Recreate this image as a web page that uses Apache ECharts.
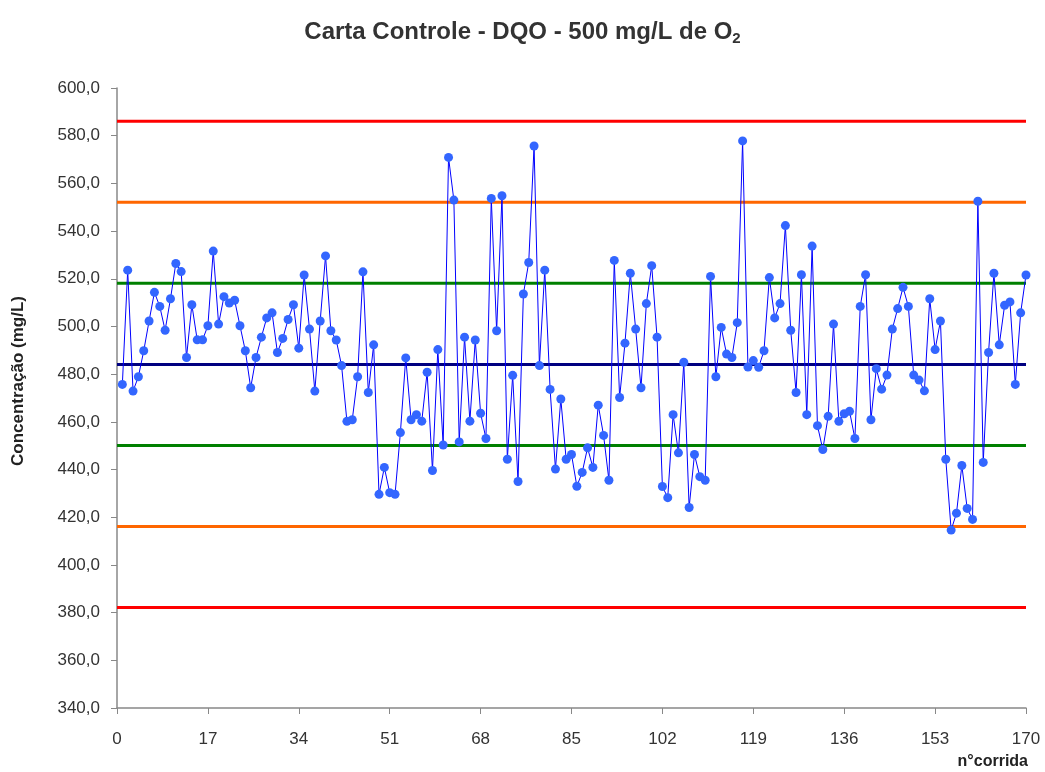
<!DOCTYPE html>
<html>
<head>
<meta charset="utf-8">
<script src="https://cdn.jsdelivr.net/npm/echarts@6/dist/echarts.min.js"></script>
<style>html,body{margin:0;padding:0;background:#fff}#c{width:1045px;height:772px}</style>
</head>
<body>
<div id="c"></div>
<script>
const runs = Array.from({length: 170}, (_, i) => i + 1);
const values = [
475.7,523.6,472.9,478.9,489.8,502.3,514.3,508.4,498.4,511.6,
526.4,523.0,487.0,509.1,494.4,494.4,500.3,531.6,501.0,512.5,
509.8,511.0,500.3,489.8,474.3,487.0,495.5,503.6,505.7,489.1,
495.0,502.9,509.1,490.9,521.6,498.9,472.9,502.3,529.6,498.2,
494.3,483.6,460.2,460.9,478.9,522.9,472.3,492.3,429.6,440.9,
430.3,429.6,455.5,486.8,460.9,463.0,460.3,480.8,439.6,490.3,
450.3,570.9,553.0,451.6,495.5,460.3,494.3,463.6,453.0,553.7,
498.2,554.8,444.3,479.5,435.0,513.6,526.8,575.7,483.6,523.6,
473.6,440.2,469.6,444.3,446.3,433.0,438.8,449.1,440.9,467.0,
454.3,435.5,527.7,470.2,493.0,522.3,498.9,474.3,509.6,525.5,
495.5,432.9,428.2,463.0,447.0,485.0,424.1,446.3,437.0,435.5,
521.0,478.9,499.6,488.4,487.0,501.6,577.8,483.0,485.7,482.9,
489.8,520.5,503.6,509.6,542.3,498.4,472.3,521.7,463.0,533.7,
458.4,448.4,462.3,501.0,460.2,463.4,464.4,453.0,508.4,521.7,
460.9,482.3,473.7,479.6,498.9,507.5,516.4,508.4,479.6,477.5,
473.0,511.6,490.3,502.3,444.3,414.6,421.7,441.7,423.7,419.1,
552.5,443.0,489.1,522.3,492.3,508.9,510.3,475.7,505.7,521.6
];
const limitNames = ['LSC','LSA','LSI','Média','LII','LIA','LIC'];
const limitValues = [586.1, 552.1, 518.1, 484.1, 450.1, 416.1, 382.1];
const limitColors = ['#ff0000','#ff6600','#008000','#000080','#008000','#ff6600','#ff0000'];
const xTicks = [0, 17, 34, 51, 68, 85, 102, 119, 136, 153, 170];
const yMin = 340, yMax = 600, yStep = 20;

const chart = echarts.init(document.getElementById('c'));
const font = 'Liberation Sans, Arial, sans-serif';
const series = limitValues.map((v, i) => ({
  name: limitNames[i],
  type: 'line',
  data: [[xTicks[0], v], [xTicks[xTicks.length - 1], v]],
  symbol: 'none',
  lineStyle: {color: limitColors[i], width: 3},
  z: 1,
  silent: true
}));
series.push({
  name: 'DQO',
  type: 'line',
  data: runs.map((r, i) => [r, values[i]]),
  symbol: 'circle',
  symbolSize: 9,
  itemStyle: {color: '#3366ff'},
  lineStyle: {color: '#0000ff', width: 1},
  z: 5
});
chart.setOption({
  animation: false,
  title: {
    text: 'Carta Controle - DQO - 500 mg/L de O{s|2}',
    left: 'center',
    top: 14,
    textStyle: {
      fontFamily: font, fontSize: 24, fontWeight: 'bold', color: '#333',
      rich: {s: {fontFamily: font, fontSize: 15, fontWeight: 'bold', color: '#333', padding: [12, 0, 0, 0]}}
    }
  },
  graphic: [{
    type: 'text',
    x: 18, y: 381,
    rotation: Math.PI / 2,
    style: {text: 'Concentração (mg/L)', fontFamily: font, fontSize: 17, fontWeight: 'bold', fill: '#222',
      align: 'center', verticalAlign: 'middle'}
  }, {
    type: 'text',
    right: 17, top: 754,
    style: {text: 'n°corrida', fontFamily: font, fontSize: 16, fontWeight: 'bold', fill: '#222'}
  }],
  grid: {left: 117, right: 19, top: 88, bottom: 64},
  xAxis: {
    type: 'value', min: 0, max: 170, interval: 17,
    axisLine: {lineStyle: {color: '#888', width: 1.5}},
    axisTick: {show: true, length: 6, lineStyle: {color: '#888'}},
    axisLabel: {fontFamily: font, fontSize: 17, color: '#333', margin: 23},
    splitLine: {show: false}
  },
  yAxis: {
    type: 'value', min: yMin, max: yMax, interval: yStep,
    axisLine: {show: true, lineStyle: {color: '#888', width: 1.5}},
    axisTick: {show: true, length: 6, lineStyle: {color: '#888'}},
    axisLabel: {fontFamily: font, fontSize: 17, color: '#333', margin: 17,
      formatter: v => v.toFixed(1).replace('.', ',')},
    splitLine: {show: false}
  },
  series: series
});
</script>
</body>
</html>
